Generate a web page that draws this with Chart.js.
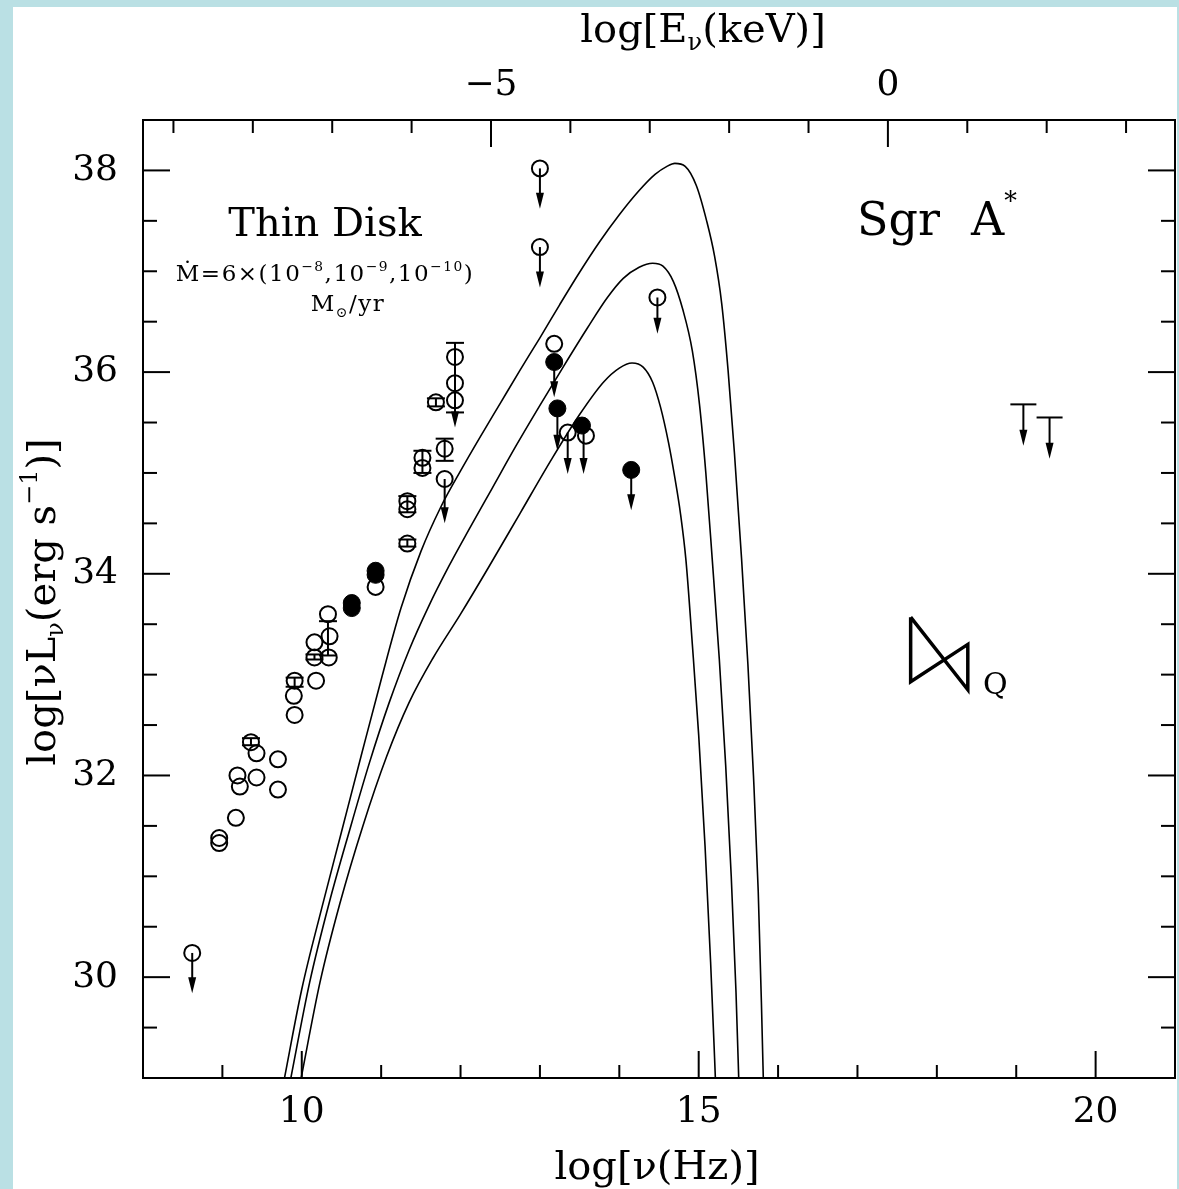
<!DOCTYPE html>
<html>
<head>
<meta charset="utf-8">
<script src="https://cdn.jsdelivr.net/npm/chart.js@4.4.1/dist/chart.umd.min.js"></script>
<style>
  html, body { margin: 0; padding: 0; background: #bae0e4; }
  canvas { display: block; }
</style>
</head>
<body>
<canvas id="sed" width="1179" height="1189"></canvas>
<script>
// log10 of 1 keV in Hz, links the top axis to the bottom one
const KEV_HZ = 17.3835;

const nuTicks = [10, 15, 20];
const keVTicks = [-5, 0];
const lumTicks = [30, 32, 34, 36, 38];

// thin disk spectra, Mdot = 6e-8, 6e-9, 6e-10 Msun/yr
const disk1Nu = [9.77, 10.0, 10.25, 10.5, 10.75, 11.0, 11.25, 11.5, 11.75, 12.0, 12.25, 12.5, 12.75, 13.0, 13.25, 13.5, 13.75, 14.0, 14.25, 14.45, 14.6, 14.7, 14.83, 14.97, 15.1, 15.2, 15.29, 15.37, 15.45, 15.54, 15.62, 15.69, 15.75, 15.79, 15.82];
const disk1L  = [28.95, 29.88, 30.68, 31.44, 32.2, 32.95, 33.66, 34.22, 34.66, 35.02, 35.36, 35.69, 36.02, 36.34, 36.67, 36.99, 37.29, 37.56, 37.80, 37.96, 38.04, 38.07, 38.04, 37.85, 37.5, 37.15, 36.68, 36.02, 35.2, 34.15, 33.1, 32.0, 30.85, 29.75, 28.8];
const disk2Nu = [9.85, 10.1, 10.35, 10.6, 10.85, 11.1, 11.35, 11.6, 11.85, 12.1, 12.4, 12.7, 13.0, 13.3, 13.6, 13.85, 14.05, 14.25, 14.42, 14.55, 14.68, 14.8, 14.92, 15.01, 15.09, 15.17, 15.26, 15.34, 15.41, 15.47, 15.51];
const disk2L  = [28.95, 29.95, 30.75, 31.45, 32.12, 32.72, 33.24, 33.68, 34.07, 34.43, 34.85, 35.27, 35.67, 36.06, 36.44, 36.74, 36.93, 37.04, 37.08, 37.05, 36.90, 36.62, 36.21, 35.68, 35.0, 34.15, 33.15, 32.1, 31.0, 29.85, 28.85];
const disk3Nu = [9.98, 10.23, 10.48, 10.77, 11.07, 11.35, 11.65, 12.0, 12.35, 12.75, 13.15, 13.5, 13.8, 14.0, 14.16, 14.3, 14.42, 14.52, 14.62, 14.70, 14.77, 14.84, 14.92, 15.0, 15.08, 15.15, 15.2, 15.22];
const disk3L  = [28.95, 29.95, 30.73, 31.50, 32.19, 32.72, 33.16, 33.60, 34.06, 34.60, 35.14, 35.58, 35.90, 36.04, 36.09, 36.05, 35.90, 35.65, 35.30, 34.95, 34.60, 34.13, 33.30, 32.40, 31.30, 30.15, 29.2, 28.8];

// observed points
const openNu = [8.62, 8.96, 8.96, 9.17, 9.19, 9.22, 9.36, 9.43, 9.43, 9.70, 9.70, 9.91, 9.90, 9.91, 10.16, 10.16, 10.18, 10.33, 10.35, 10.34, 10.93, 11.33, 11.33, 11.33, 11.52, 11.52, 11.80, 11.80, 11.69, 11.93, 11.93, 11.93, 13.00, 13.00, 13.18, 13.35, 13.58, 14.48];
const openL  = [30.24, 31.38, 31.33, 31.58, 32.00, 31.89, 32.33, 32.22, 31.98, 32.16, 31.86, 32.94, 32.79, 32.60, 33.32, 33.17, 32.94, 33.60, 33.38, 33.17, 33.87, 34.72, 34.64, 34.30, 35.15, 35.05, 35.24, 34.94, 35.70, 36.15, 35.89, 35.72, 38.02, 37.24, 36.28, 35.40, 35.37, 36.74];
const filledNu = [10.63, 10.63, 10.93, 10.93, 13.18, 13.22, 13.53, 14.15];
const filledL  = [33.71, 33.66, 34.03, 33.99, 36.10, 35.64, 35.47, 35.03];

// error bars
const errNu = [9.36, 9.91, 10.16, 10.33, 11.33, 11.33, 11.52, 11.80, 11.69, 11.93];
const errLo = [32.30, 32.88, 33.15, 33.19, 34.61, 34.27, 35.00, 35.12, 35.66, 35.60];
const errHi = [32.37, 32.97, 33.20, 33.53, 34.77, 34.34, 35.22, 35.34, 35.74, 36.29];

// upper limits
const limNu   = [8.62, 11.80, 11.93, 13.00, 13.00, 13.18, 13.22, 13.35, 13.55, 14.15, 14.48];
const limFrom = [30.24, 34.94, 35.72, 38.02, 37.24, 36.10, 35.64, 35.40, 35.42, 35.03, 36.74];
const limTo   = [29.84, 34.50, 35.45, 37.62, 36.84, 35.75, 35.22, 34.99, 34.99, 34.63, 36.38];

// X-ray upper limits
const xrayNu = [19.09, 19.42];
const xrayL  = [35.68, 35.55];
const xrayTo = [35.27, 35.14];

// quiescent X-ray bowtie
const bowNu = [17.67, 18.39, 18.39, 17.67, 17.67];
const bowL  = [33.57, 32.85, 33.30, 32.93, 33.57];

const serif = '"DejaVu Serif", serif';
const pts = (xs, ys) => xs.map((v, i) => ({ x: v, y: ys[i] }));

function rich(ctx, parts, x, y, size, align) {
  // parts: [text, scale, raise(em)]
  let w = 0;
  parts.forEach(p => { ctx.font = (size * (p[1] || 1)) + 'px ' + serif; w += ctx.measureText(p[0]).width; });
  let cx = align === 'center' ? x - w / 2 : x;
  parts.forEach(p => {
    ctx.font = (size * (p[1] || 1)) + 'px ' + serif;
    ctx.fillText(p[0], cx, y - (p[2] || 0) * size);
    cx += ctx.measureText(p[0]).width;
  });
}

const decor = {
  id: 'decor',
  beforeDraw(chart) {
    const ctx = chart.ctx;
    ctx.save();
    ctx.fillStyle = '#bae0e4';
    ctx.fillRect(0, 0, chart.width, chart.height);
    ctx.fillStyle = '#fff';
    ctx.fillRect(13, 7, 1164, 1182);
    ctx.restore();
  },
  afterDatasetsDraw(chart) {
    const ctx = chart.ctx;
    const a = chart.chartArea;
    const sx = chart.scales.x, sy = chart.scales.y, st = chart.scales.x2;
    ctx.save();
    ctx.strokeStyle = '#000';
    ctx.fillStyle = '#000';
    ctx.lineWidth = 2;

    // inward ticks
    const line = (x0, y0, x1, y1) => { ctx.beginPath(); ctx.moveTo(x0, y0); ctx.lineTo(x1, y1); ctx.stroke(); };
    for (let v = 9; v <= 21; v++) {
      const p = sx.getPixelForValue(v);
      line(p, a.bottom, p, a.bottom - (v % 5 === 0 ? 27 : 13));
    }
    for (let v = -9; v <= 3; v++) {
      const p = st.getPixelForValue(v);
      line(p, a.top, p, a.top + (v % 5 === 0 ? 27 : 13));
    }
    for (let v = 29.5; v <= 38.5; v += 0.5) {
      const p = sy.getPixelForValue(v);
      const len = v % 2 === 0 ? 27 : 14;
      line(a.left, p, a.left + len, p);
      line(a.right, p, a.right - len, p);
    }

    // error bars
    errNu.forEach((v, i) => {
      const x = sx.getPixelForValue(v);
      const y0 = sy.getPixelForValue(errLo[i]), y1 = sy.getPixelForValue(errHi[i]);
      line(x, y0, x, y1);
      line(x - 9, y0, x + 9, y0);
      line(x - 9, y1, x + 9, y1);
    });

    const arrow = (x, y0, y1) => {
      line(x, y0, x, y1 - 6);
      ctx.beginPath();
      ctx.moveTo(x, y1);
      ctx.lineTo(x - 4, y1 - 16);
      ctx.lineTo(x + 4, y1 - 16);
      ctx.closePath();
      ctx.fill();
    };
    limNu.forEach((v, i) => {
      arrow(sx.getPixelForValue(v), sy.getPixelForValue(limFrom[i]), sy.getPixelForValue(limTo[i]));
    });
    xrayNu.forEach((v, i) => {
      const x = sx.getPixelForValue(v), y = sy.getPixelForValue(xrayL[i]);
      line(x - 13, y, x + 13, y);
      arrow(x, y, sy.getPixelForValue(xrayTo[i]));
    });

    // labels inside the frame
    ctx.textBaseline = 'alphabetic';
    rich(ctx, [['Thin Disk']], 325, 236, 40, 'center');
    ctx.letterSpacing = '1.5px';
    rich(ctx, [['Ṁ=6×(10'], ['−8', 0.6, 0.45], [',10'], ['−9', 0.6, 0.45], [',10'], ['−10', 0.6, 0.45], [')']], 325, 281, 23, 'center');
    rich(ctx, [['M'], ['⊙', 0.6, -0.25], ['/yr']], 348, 311, 23, 'center');
    ctx.letterSpacing = '0px';
    rich(ctx, [['Sgr']], 857, 235, 46, 'left');
    rich(ctx, [['A'], ['*', 0.55, 0.55]], 971, 235, 46, 'left');
    rich(ctx, [['Q']], 983, 694, 30, 'left');

    // axis titles
    rich(ctx, [['log[ν(Hz)]']], 657, 1179, 40, 'center');
    rich(ctx, [['log[E'], ['ν', 0.6, -0.2], ['(keV)]']], 703, 42, 40, 'center');
    ctx.translate(55, 602);
    ctx.rotate(-Math.PI / 2);
    rich(ctx, [['log[νL'], ['ν', 0.6, -0.2], ['(erg s'], ['−1', 0.6, 0.45], [')]']], 0, 0, 40, 'center');
    ctx.restore();
  }
};

const fixed = (w, h) => (scale) => {
  if (w !== null) scale.width = w;
  if (h !== null) scale.height = h;
};

const axisBase = {
  type: 'linear',
  grid: { display: false, drawTicks: false },
  border: { display: true, color: '#000', width: 2 },
  ticks: { color: '#000', font: { family: serif, size: 36 }, padding: 13, maxRotation: 0 }
};

new Chart(document.getElementById('sed'), {
  type: 'scatter',
  data: {
    datasets: [
      { data: pts(disk1Nu, disk1L), showLine: true, borderColor: '#000', borderWidth: 1.6, pointRadius: 0, cubicInterpolationMode: 'monotone', fill: false },
      { data: pts(disk2Nu, disk2L), showLine: true, borderColor: '#000', borderWidth: 1.6, pointRadius: 0, cubicInterpolationMode: 'monotone', fill: false },
      { data: pts(disk3Nu, disk3L), showLine: true, borderColor: '#000', borderWidth: 1.6, pointRadius: 0, cubicInterpolationMode: 'monotone', fill: false },
      { data: pts(bowNu, bowL), showLine: true, borderColor: '#000', borderWidth: 3.5, pointRadius: 0, tension: 0, fill: false },
      { data: pts(openNu, openL), pointStyle: 'circle', pointRadius: 8, borderWidth: 2, borderColor: '#000', backgroundColor: 'rgba(0,0,0,0)' },
      { data: pts(filledNu, filledL), pointStyle: 'circle', pointRadius: 8.5, borderWidth: 1, borderColor: '#000', backgroundColor: '#000' }
    ]
  },
  options: {
    responsive: false,
    animation: false,
    devicePixelRatio: 1,
    layout: { padding: 0, autoPadding: false },
    plugins: { legend: { display: false }, tooltip: { enabled: false } },
    scales: {
      x: Object.assign({}, axisBase, {
        position: 'bottom', min: 8, max: 21,
        afterBuildTicks: s => { s.ticks = nuTicks.map(v => ({ value: v })); },
        afterFit: fixed(null, 111)
      }),
      x2: Object.assign({}, axisBase, {
        position: 'top', min: 8 - KEV_HZ, max: 21 - KEV_HZ,
        ticks: Object.assign({}, axisBase.ticks, { callback: v => (v < 0 ? '−' + Math.abs(v) : '' + v) }),
        afterBuildTicks: s => { s.ticks = keVTicks.map(v => ({ value: v })); },
        afterFit: fixed(null, 120)
      }),
      y: Object.assign({}, axisBase, {
        position: 'left', min: 29, max: 38.5,
        ticks: Object.assign({}, axisBase.ticks, { padding: 25 }),
        afterBuildTicks: s => { s.ticks = lumTicks.map(v => ({ value: v })); },
        afterFit: fixed(143, null)
      }),
      y2: Object.assign({}, axisBase, {
        position: 'right', min: 29, max: 38.5,
        ticks: { display: false },
        afterFit: fixed(4, null)
      })
    }
  },
  plugins: [decor]
});
</script>
</body>
</html>
